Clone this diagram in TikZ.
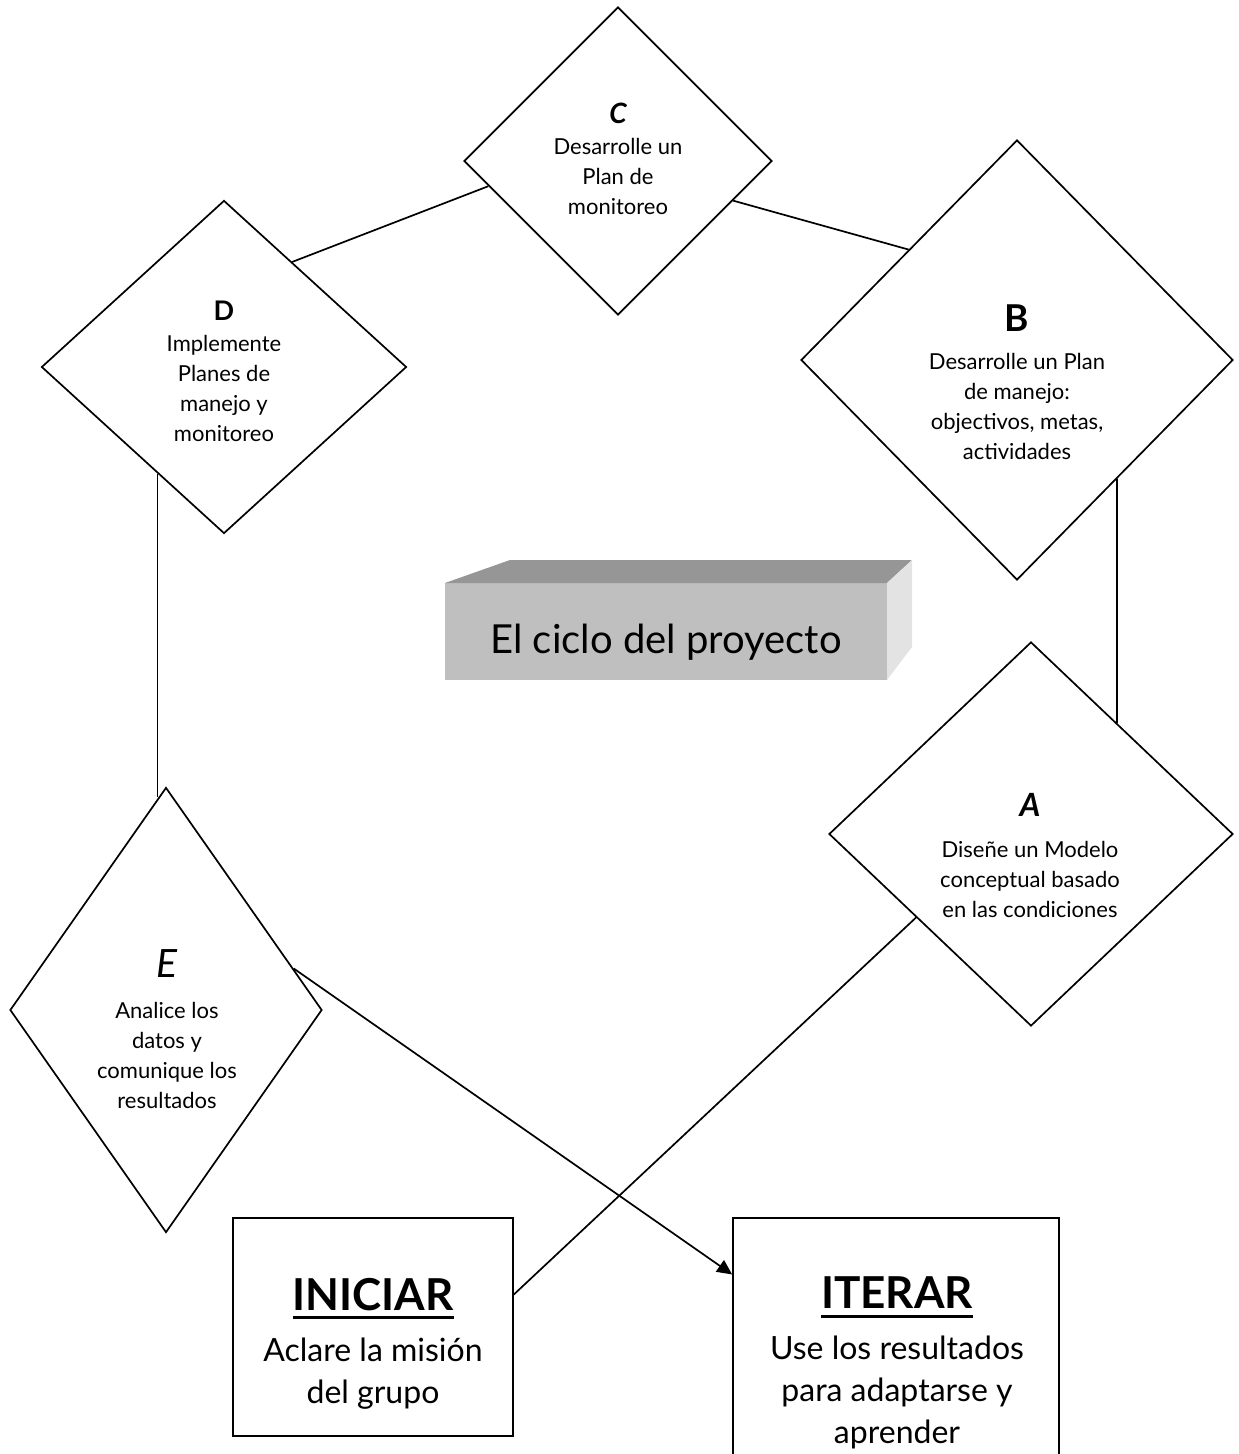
\documentclass[tikz,border=0pt]{standalone}
\usepackage{fontspec}
\setmainfont{Lato}
\usetikzlibrary{shapes.geometric,arrows.meta}
\newcommand{\ulbold}[1]{\vtop{\hbox{\bfseries #1}\kern3pt\hrule height 1.5pt}}

\begin{document}
\begin{tikzpicture}[x=0.5pt, y=-0.5pt, line width=0.85pt,
   diamond_style/.style={diamond, draw=black, inner sep=0pt},
   box_style/.style={rectangle, draw=black, inner sep=0pt},
   text_style/.style={align=center, anchor=north, inner sep=0pt, font=\fontsize{11}{15}\selectfont},
   boxtext_style/.style={align=center, anchor=north, inner sep=0pt, font=\fontsize{16}{21}\selectfont},
   edge_style/.style={draw=black, line width=0.85pt}]

    \useasboundingbox (0,0) rectangle (1238,1454);

    % title block
    \node[fill=black!25, minimum width=221pt, minimum height=48.5pt, outer sep=0pt,
          text height=21.5pt, text depth=0pt, font=\fontsize{20}{24}\selectfont] (proj) at (666,631.5) {El ciclo del proyecto};
    \fill[black!41] (proj.north west) -- ++(65,-23) -- ([shift={(25,-23)}]proj.north east) -- (proj.north east) -- cycle;
    \fill[black!11] (proj.north east) -- ++(25,-23) -- ++(0,87) -- (proj.south east) -- cycle;

    % steps
    \node[diamond_style, minimum width=154pt, minimum height=154pt] (C) at (618,161) {};
    \node[diamond_style, minimum width=182.5pt, minimum height=166.5pt] (D) at (224,367) {};
    \node[diamond_style, minimum width=216pt, minimum height=220pt] (B) at (1017,360) {};
    \node[diamond_style, minimum width=202pt, minimum height=192pt] (A) at (1031,834) {};
    \node[diamond_style, minimum width=156pt, minimum height=222.5pt] (E) at (166,1010) {};
    \node[box_style, minimum width=140pt, minimum height=109pt] (ini) at (373,1327) {};
    \node[box_style, minimum width=163pt, minimum height=126pt] (ite) at (896,1344) {};

    \node[text_style] (tC) at (618,102) {{\fontsize{14}{15}\selectfont\bfseries\itshape C}\\[0.5pt]Desarrolle un\\Plan de\\monitoreo};
    \node[text_style] (tD) at (224,300.5) {{\fontsize{13.5}{15}\selectfont\bfseries D}\\[0.5pt]Implemente\\Planes de\\manejo y\\monitoreo};
    \node[text_style] (tB) at (1017,304) {{\fontsize{18.5}{15}\selectfont\bfseries B}\\[4pt]Desarrolle un Plan\\de manejo:\\objectivos, metas,\\actividades};
    \node[text_style] (tA) at (1030,793) {{\fontsize{16}{15}\selectfont\bfseries\itshape A}\\[5.5pt]Diseñe un Modelo\\conceptual basado\\en las condiciones};
    \node[text_style] (tE) at (167,949) {{\fontsize{19.5}{15}\selectfont\itshape E}\\[5.5pt]Analice los\\datos y\\comunique los\\resultados};
    \node[boxtext_style] (tini) at (373,1277) {{\fontsize{22}{21}\selectfont\ulbold{INICIAR}}\\[4.5pt]Aclare la misión\\del grupo};
    \node[boxtext_style] (tite) at (897,1276) {{\fontsize{22}{21}\selectfont\ulbold{ITERAR}}\\[4.5pt]Use los resultados\\para adaptarse y\\aprender};

    % cycle
    \draw[edge_style] (C.191) -- (D.57);
    \draw[edge_style] (C.-19) -- (B.north west);
    \draw[edge_style] (D.-122) -- (D.-122 |- E.92);
    \draw[edge_style] (B.-50) -- (B.-50 |- A.52);
    \draw[edge_style] (A.216) -- (ini.13);
    \draw[edge_style, -{Triangle[length=7.5pt, width=7pt]}] (E.18) -- (ite.157);
\end{tikzpicture}
\end{document}
